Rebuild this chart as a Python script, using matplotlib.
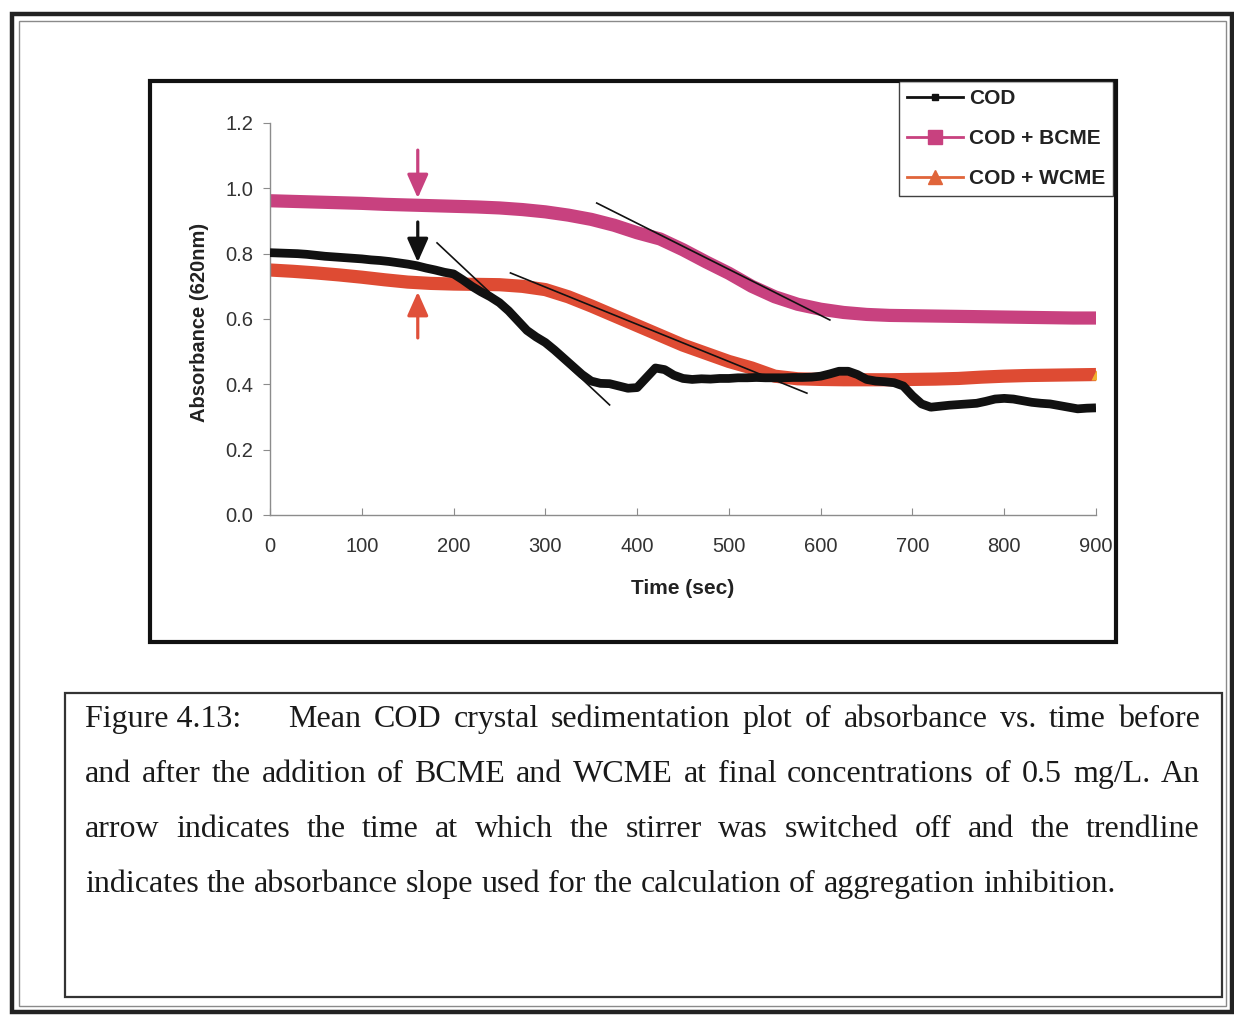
import numpy as np
import matplotlib
matplotlib.use('Agg')
import matplotlib.pyplot as plt
from matplotlib.patches import Rectangle
from matplotlib.lines import Line2D

W, H = 1234, 1015

# ---- data ----
t_cod = np.arange(0, 901, 10)
cod = [0.803, 0.802, 0.801, 0.800, 0.798, 0.795, 0.792, 0.790, 0.788, 0.786,
       0.784, 0.781, 0.779, 0.776, 0.772, 0.768, 0.763, 0.756, 0.750, 0.743,
       0.738, 0.720, 0.700, 0.683, 0.668, 0.650, 0.625, 0.595, 0.565, 0.545,
       0.528, 0.505, 0.480, 0.455, 0.430, 0.410, 0.403, 0.402, 0.395, 0.388,
       0.390, 0.420, 0.450, 0.445, 0.428, 0.418, 0.415, 0.417, 0.416, 0.418,
       0.418, 0.420, 0.420, 0.421, 0.420, 0.420, 0.420, 0.421, 0.421, 0.422,
       0.425, 0.432, 0.440, 0.440, 0.430, 0.415, 0.410, 0.408, 0.405, 0.395,
       0.365, 0.340, 0.330, 0.333, 0.336, 0.338, 0.340, 0.342, 0.348, 0.355,
       0.357, 0.355, 0.350, 0.345, 0.342, 0.340, 0.335, 0.330, 0.325, 0.327,
       0.328]

t_me = np.arange(0, 901, 25)
bcme = [0.962, 0.960, 0.958, 0.956, 0.954, 0.951, 0.949, 0.947, 0.945, 0.943,
        0.940, 0.935, 0.928, 0.918, 0.905, 0.887, 0.864, 0.845, 0.812, 0.775,
        0.740, 0.700, 0.668, 0.645, 0.630, 0.620, 0.614, 0.611, 0.610, 0.609,
        0.608, 0.607, 0.606, 0.605, 0.604, 0.603, 0.603]
wcme = [0.750, 0.746, 0.741, 0.735, 0.728, 0.720, 0.713, 0.709, 0.707, 0.706,
        0.705, 0.700, 0.690, 0.668, 0.640, 0.610, 0.580, 0.550, 0.520, 0.495,
        0.470, 0.450, 0.425, 0.417, 0.415, 0.414, 0.414, 0.414, 0.415, 0.416,
        0.418, 0.422, 0.425, 0.427, 0.428, 0.429, 0.430]

# trendlines (start, end)
trend_cod_t, trend_cod_v = [182, 370], [0.833, 0.337]
trend_bcme_t, trend_bcme_v = [356, 610], [0.955, 0.597]
trend_wcme_t, trend_wcme_v = [262, 585], [0.741, 0.373]

# stirrer-off arrows: (tail, head, colour) at one time
arrow_t = 161
arrows = [(1.117, 0.970, '#c8417f'), (0.897, 0.774, '#111111'), (0.542, 0.683, '#e0503a')]

labels = ['COD', 'COD + BCME', 'COD + WCME']
c_cod, c_bcme, c_wcme = '#111111', '#c8417f', '#de4b33'

caption_lines = [
    "Figure 4.13: Mean COD crystal sedimentation plot of absorbance vs. time before",
    "and after the addition of BCME and WCME at final concentrations of 0.5 mg/L. An",
    "arrow indicates the time at which the stirrer was switched off and the trendline",
    "indicates the absorbance slope used for the calculation of aggregation inhibition.",
]


def fx(px):
    return px / W


def fy(py):
    return 1 - py / H


plt.rcParams['font.family'] = ['Liberation Sans', 'DejaVu Sans']
fig = plt.figure(figsize=(W / 100, H / 100), dpi=100)
fig.patch.set_facecolor('white')

# page border (double line)
fig.add_artist(Rectangle((fx(12), fy(1012)), fx(1232) - fx(12), fy(14) - fy(1012),
                         fill=False, lw=3.2, ec='#222222', transform=fig.transFigure))
fig.add_artist(Rectangle((fx(19), fy(1006)), fx(1226) - fx(19), fy(21) - fy(1006),
                         fill=False, lw=1.0, ec='#8a8a8a', transform=fig.transFigure))

# chart frame
fig.add_artist(Rectangle((fx(150), fy(642)), fx(1116) - fx(150), fy(81) - fy(642),
                         fill=False, lw=3.0, ec='#111111', transform=fig.transFigure, zorder=5))

ax = fig.add_axes([fx(270), fy(515), fx(1096) - fx(270), fy(123) - fy(515)])
ax.set_facecolor('none')

ax.plot(t_me, wcme, color=c_wcme, lw=9.5, solid_capstyle='butt', zorder=2)
ax.plot(t_me, bcme, color=c_bcme, lw=9.5, solid_capstyle='butt', zorder=2)
ax.plot(t_cod, cod, color=c_cod, lw=6.3, solid_capstyle='butt', solid_joinstyle='round', zorder=3)
ax.plot(t_me[-1:], wcme[-1:], marker='^', ms=7, color='#f0b030', mec='none', zorder=4)

for tt, vv in [(trend_cod_t, trend_cod_v), (trend_bcme_t, trend_bcme_v), (trend_wcme_t, trend_wcme_v)]:
    ax.plot(tt, vv, color='#111111', lw=1.2, zorder=5)

for tail, head, col in arrows:
    ax.annotate('', xy=(arrow_t, head), xytext=(arrow_t, tail),
                arrowprops=dict(arrowstyle='-|>,head_length=0.9,head_width=0.4',
                                lw=2.3, color=col, mutation_scale=16, shrinkA=0, shrinkB=0),
                zorder=6)

ax.set_xlim(0, 900)
ax.set_ylim(0, 1.2)
ax.set_xticks(np.arange(0, 901, 100))
ax.set_yticks(np.arange(0, 1.21, 0.2))
ax.set_yticklabels([f'{v:.1f}' for v in np.arange(0, 1.21, 0.2)])
for s in ['top', 'right']:
    ax.spines[s].set_visible(False)
for s in ['left', 'bottom']:
    ax.spines[s].set_color('#8c8c8c')
    ax.spines[s].set_linewidth(1.0)
ax.tick_params(axis='y', direction='out', length=5, color='#8c8c8c', pad=7,
               labelsize=14.5, labelcolor='#333333')
ax.tick_params(axis='x', direction='in', length=5, color='#8c8c8c', pad=16,
               labelsize=14.5, labelcolor='#333333')

ax.set_ylabel('Absorbance (620nm)', fontsize=14.5, fontweight='bold', color='#222222')
ax.yaxis.set_label_coords(-0.074, 0.492)
ax.set_xlabel('Time (sec)', fontsize=15, fontweight='bold', color='#222222')
ax.xaxis.set_label_coords(0.5, -0.163)

handles = [
    Line2D([], [], color=c_cod, lw=2, marker='s', ms=5),
    Line2D([], [], color=c_bcme, lw=2, marker='s', ms=10),
    Line2D([], [], color='#e0653a', lw=2, marker='^', ms=10),
]
leg = fig.legend(handles, labels, loc='upper left', bbox_to_anchor=(fx(899), fy(81)),
                 bbox_transform=fig.transFigure, frameon=True, fancybox=False,
                 borderaxespad=0, borderpad=0.4, handlelength=2.65, handletextpad=0.3,
                 labelspacing=1.0, prop={'size': 15, 'weight': 'bold'})
leg.get_frame().set_edgecolor('#111111')
leg.get_frame().set_linewidth(1.0)
for txt in leg.get_texts():
    txt.set_color('#222222')

# caption box
fig.add_artist(Rectangle((fx(65), fy(997)), fx(1222) - fx(65), fy(693) - fy(997),
                         fill=False, lw=1.6, ec='#333333', transform=fig.transFigure))

# justified caption text (last line left-aligned)
cap_font = dict(family='Liberation Serif', size=23, color='#1a1a1a')
baselines = [727, 782, 837, 892]
left, right = 85, 1200
fig.canvas.draw()
renderer = fig.canvas.get_renderer()
space_w = fig.text(0, 0, 'a a', **cap_font).get_window_extent(renderer).width - \
    fig.text(0, 0, 'aa', **cap_font).get_window_extent(renderer).width
for t in fig.texts[-2:]:
    t.remove()
for i, (line, base) in enumerate(zip(caption_lines, baselines)):
    words = line.split(' ')
    if i == 0:
        words = [words[0] + ' ' + words[1]] + words[2:]
    items = []
    for w in words:
        t = fig.text(0, fy(base), w, va='baseline', ha='left', **cap_font)
        items.append((t, t.get_window_extent(renderer).width))
    start = left
    seq = items
    if i == 0:
        items[0][0].set_x(fx(left))
        start = 288
        seq = items[1:]
    if i < len(caption_lines) - 1:
        gap = (right - start - sum(wd for _, wd in seq)) / (len(seq) - 1)
    else:
        gap = space_w
    x = start
    for t, wd in seq:
        t.set_x(fx(x))
        x += wd + gap

fig.savefig('out.png', dpi=100, facecolor='white')
